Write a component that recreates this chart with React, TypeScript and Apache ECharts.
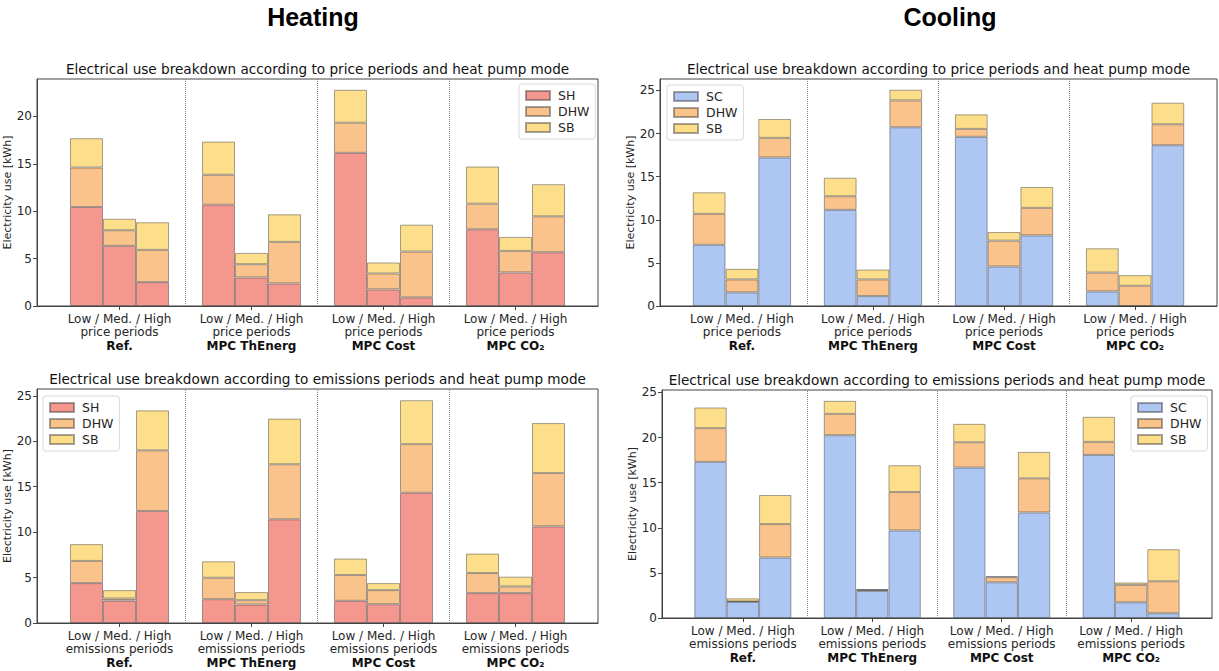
import React, { useEffect, useRef } from "react";
import * as echarts from "echarts";

// ---------- data ----------
const groupNames = ["Ref.", "MPC ThEnerg", "MPC Cost", "MPC CO\u2082"];
const periodWords = ["price periods", "emissions periods"];

// Heating – price periods (order: Ref L/M/H, ThEnerg L/M/H, Cost L/M/H, CO2 L/M/H)
const heatPriceSH = [10.44, 6.34, 2.52, 10.68, 3.01, 2.38, 16.15, 1.75, 0.91, 8.09, 3.54, 5.67];
const heatPriceDHW = [4.16, 1.65, 3.4, 3.16, 1.4, 4.38, 3.18, 1.68, 4.83, 2.7, 2.27, 3.79];
const heatPriceSB = [3.1, 1.21, 2.91, 3.5, 1.19, 2.91, 3.47, 1.16, 2.84, 3.92, 1.48, 3.39];

// Cooling – price periods
const coolPriceSC = [7.1, 1.58, 17.23, 11.15, 1.15, 20.73, 19.62, 4.58, 8.19, 1.69, 0, 18.65];
const coolPriceDHW = [3.59, 1.5, 2.27, 1.58, 1.93, 3.12, 0.92, 3.0, 3.19, 2.19, 2.35, 2.43];
const coolPriceSB = [2.5, 1.23, 2.19, 2.15, 1.15, 1.23, 1.69, 1.0, 2.43, 2.81, 1.23, 2.5];

// Heating – emissions periods
const heatEmisSH = [4.39, 2.47, 12.33, 2.62, 2.03, 11.41, 2.44, 2.07, 14.33, 3.29, 3.29, 10.63];
const heatEmisDHW = [2.44, 0.22, 6.67, 2.36, 0.48, 6.06, 2.84, 1.55, 5.35, 2.21, 0.73, 5.87];
const heatEmisSB = [1.85, 0.93, 4.4, 1.81, 0.89, 5.02, 1.81, 0.77, 4.84, 2.14, 1.08, 5.5];

// Cooling – emissions periods
const coolEmisSC = [17.3, 1.8, 6.7, 20.26, 3.0, 9.7, 16.67, 3.96, 11.7, 18.07, 1.74, 0.52];
const coolEmisDHW = [3.74, 0.03, 3.71, 2.37, 0.12, 4.26, 2.81, 0.56, 3.78, 1.45, 1.93, 3.55];
const coolEmisSB = [2.29, 0.35, 3.22, 1.44, 0.05, 2.97, 2.04, 0.11, 2.93, 2.78, 0.26, 3.56];

const yTicks20 = [0, 5, 10, 15, 20];
const yTicks25 = [0, 5, 10, 15, 20, 25];
const yMax = [23.94, 26.33, 25.75, 25.27];

// ---------- styling ----------
const COL_SH = "#f4978f";
const COL_SC = "#aec6f2";
const COL_DHW = "#f9c38b";
const COL_SB = "#fdde8b";
const FONT = "DejaVu Sans";

const SLOTS = 17;
const centers = [2, 6, 10, 14];
const dividers = [4, 8, 12];

function toSlots(vals: number[]) {
  const out: any[] = new Array(SLOTS).fill("-");
  vals.forEach((v, i) => {
    const g = Math.floor(i / 3);
    const b = i % 3;
    out[1 + g * 4 + b] = v;
  });
  return out;
}

const grids = [
  { left: 37, top: 79, width: 561, height: 227 },
  { left: 660, top: 79, width: 557, height: 227 },
  { left: 37, top: 389, width: 561, height: 234 },
  { left: 662, top: 390, width: 550, height: 228 },
];

const panels = [
  { first: "SH", firstColor: COL_SH, data: [heatPriceSH, heatPriceDHW, heatPriceSB], period: 0, ticks: yTicks20, legend: { left: 519, top: 84 } },
  { first: "SC", firstColor: COL_SC, data: [coolPriceSC, coolPriceDHW, coolPriceSB], period: 0, ticks: yTicks25, legend: { left: 667, top: 85 } },
  { first: "SH", firstColor: COL_SH, data: [heatEmisSH, heatEmisDHW, heatEmisSB], period: 1, ticks: yTicks25, legend: { left: 43, top: 396 } },
  { first: "SC", firstColor: COL_SC, data: [coolEmisSC, coolEmisDHW, coolEmisSB], period: 1, ticks: yTicks25, legend: { left: 1131, top: 396 } },
];

const subTitles = [
  "Electrical use breakdown according to price periods and heat pump mode",
  "Electrical use breakdown according to price periods and heat pump mode",
  "Electrical use breakdown according to emissions periods and heat pump mode",
  "Electrical use breakdown according to emissions periods and heat pump mode",
];

function buildOption() {
  const xAxes: any[] = [];
  const yAxes: any[] = [];
  const series: any[] = [];
  const legends: any[] = [];
  const graphics: any[] = [];

  panels.forEach((p, pi) => {
    xAxes.push({
      type: "category",
      gridIndex: pi,
      data: Array.from({ length: SLOTS }, (_, i) => "s" + i),
      boundaryGap: true,
      axisLine: { show: true, lineStyle: { color: "#444", width: 1 } },
      axisTick: {
        show: true,
        alignWithLabel: true,
        interval: (idx: number) => centers.includes(idx),
        length: 4,
        lineStyle: { color: "#444" },
      },
      axisLabel: {
        interval: 0,
        margin: 6,
        formatter: (_v: string, idx: number) => {
          const g = centers.indexOf(idx);
          if (g < 0) return "";
          return `{a|Low / Med. / High}\n{a|${periodWords[p.period]}}\n{b|${groupNames[g]}}`;
        },
        rich: {
          a: { fontFamily: FONT, fontSize: 12, color: "#262626", lineHeight: 13.5 },
          b: { fontFamily: FONT, fontSize: 12, color: "#111", fontWeight: "bold", lineHeight: 13.5 },
        },
      },
      splitLine: { show: false },
    });
    yAxes.push({
      type: "value",
      gridIndex: pi,
      min: 0,
      max: yMax[pi],
      name: "Electricity use [kWh]",
      nameLocation: "middle",
      nameGap: 19,
      nameTextStyle: { fontFamily: FONT, fontSize: 11, color: "#262626" },
      axisLine: { show: true, lineStyle: { color: "#444", width: 1 } },
      axisTick: { show: true, length: 4, lineStyle: { color: "#444" }, customValues: p.ticks },
      axisLabel: { fontFamily: FONT, fontSize: 12, color: "#262626", margin: 5, customValues: p.ticks },
      splitLine: { show: false },
    });
    const names = [p.first, "DHW", "SB"];
    const colors = [p.firstColor, COL_DHW, COL_SB];
    names.forEach((n, si) => {
      const s: any = {
        type: "bar",
        name: n,
        xAxisIndex: pi,
        yAxisIndex: pi,
        stack: "total" + pi,
        barCategoryGap: "0%",
        data: toSlots(p.data[si]),
        itemStyle: { color: colors[si], borderColor: "rgba(40,40,40,0.42)", borderWidth: 1 },
        emphasis: { disabled: true },
      };
      if (si === 0) {
        s.markLine = {
          silent: true,
          symbol: "none",
          label: { show: false },
          lineStyle: { type: "dotted", color: "#888", width: 1 },
          data: dividers.map((d) => ({ xAxis: d })),
        };
      }
      series.push(s);
    });
    legends.push({
      show: true,
      orient: "vertical",
      left: p.legend.left,
      top: p.legend.top,
      data: names,
      icon: "rect",
      itemWidth: 24,
      itemHeight: 9,
      itemGap: 3,
      padding: [5, 6, 5, 6],
      borderColor: "#d8d8d8",
      borderWidth: 1,
      borderRadius: 3,
      backgroundColor: "rgba(255,255,255,0.85)",
      textStyle: { fontFamily: FONT, fontSize: 12.5, color: "#262626", padding: [0, 0, 0, 3] },
      selectedMode: false,
    });
    const g = grids[pi];
    graphics.push({
      type: "text",
      x: g.left + g.width / 2,
      y: g.top - 10,
      style: {
        text: subTitles[pi],
        fontFamily: FONT,
        fontSize: 13.6,
        fill: "#111",
        textAlign: "center",
        textVerticalAlign: "middle",
      },
    });
  });

  graphics.push({
    type: "text",
    x: 313,
    y: 17,
    style: { text: "Heating", fontFamily: "Liberation Sans", fontSize: 25, fontWeight: "bold", fill: "#000", textAlign: "center", textVerticalAlign: "middle" },
  });
  graphics.push({
    type: "text",
    x: 950,
    y: 17,
    style: { text: "Cooling", fontFamily: "Liberation Sans", fontSize: 25, fontWeight: "bold", fill: "#000", textAlign: "center", textVerticalAlign: "middle" },
  });

  return {
    animation: false,
    backgroundColor: "#fff",
    grid: grids.map((g) => ({ ...g, show: true, borderColor: "#444", borderWidth: 1, containLabel: false })),
    xAxis: xAxes,
    yAxis: yAxes,
    legend: legends,
    series,
    graphic: graphics,
  };
}

export default function App() {
  const ref = useRef<HTMLDivElement>(null);
  useEffect(() => {
    document.body.style.margin = "0";
    if (!ref.current) return;
    const chart = echarts.init(ref.current, undefined, { renderer: "svg" });
    chart.setOption(buildOption() as any);
    return () => chart.dispose();
  }, []);
  return <div ref={ref} style={{ width: 1219, height: 671 }} />;
}
